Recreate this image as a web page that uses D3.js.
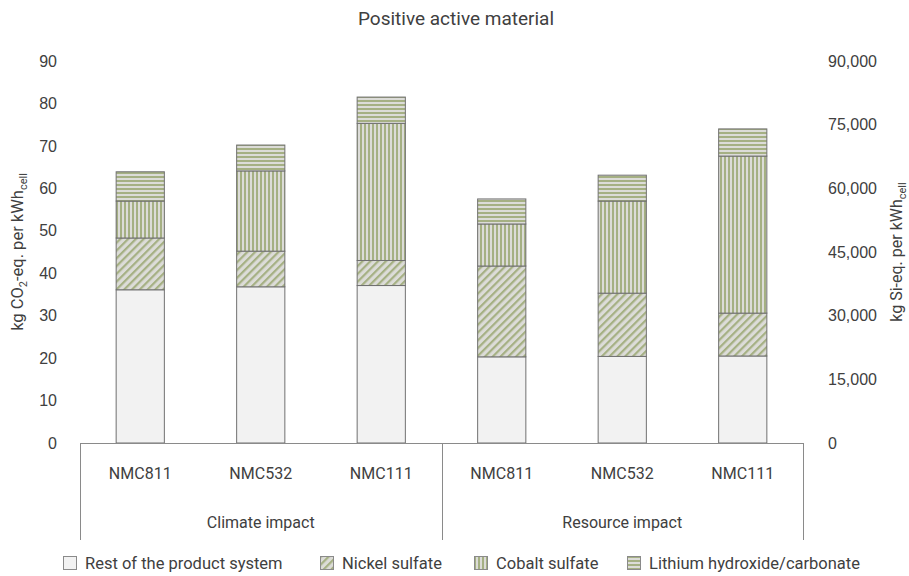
<!DOCTYPE html>
<html>
<head>
<meta charset="utf-8">
<script src="https://cdn.jsdelivr.net/npm/d3@7/dist/d3.min.js"></script>
<style>
  html, body { margin: 0; padding: 0; background: #fff; }
  svg { display: block; font-family: Roboto, "Noto Sans", sans-serif; }
</style>
</head>
<body>
<svg id="chart" width="909" height="576"></svg>
<script>
// Stacked contributions of the positive active material, per cell chemistry
const groups = ["Climate impact", "Resource impact"];
const categories = ["NMC811", "NMC532", "NMC111"];
const seriesNames = ["Rest of the product system", "Nickel sulfate", "Cobalt sulfate", "Lithium hydroxide/carbonate"];

// Climate impact, kg CO2-eq. per kWh cell (left axis)
const climateRest    = [36.1, 36.8, 37.1];
const climateNickel  = [12.2, 8.4, 5.9];
const climateCobalt  = [8.7, 18.9, 32.3];
const climateLithium = [6.9, 6.1, 6.2];

// Resource impact, kg Si-eq. per kWh cell (right axis)
const resourceRest    = [20300, 20400, 20500];
const resourceNickel  = [21400, 14900, 10100];
const resourceCobalt  = [9900, 21700, 37000];
const resourceLithium = [5900, 6100, 6400];

const leftTicks  = [0, 10, 20, 30, 40, 50, 60, 70, 80, 90];
const rightTicks = [0, 15000, 30000, 45000, 60000, 75000, 90000];

const svg = d3.select("#chart");
const plot = { left: 80, right: 803, top: 61, bottom: 443 };
const textColor = "#404040";

// Pattern fills for the stacked segments
const defs = svg.append("defs");
const green = "#a5b083", bg = "#dcdcd8";
function stripes(id, angle, period, lineW) {
  const p = defs.append("pattern")
    .attr("id", id).attr("patternUnits", "userSpaceOnUse")
    .attr("width", period).attr("height", period)
    .attr("patternTransform", `rotate(${angle})`);
  p.append("rect").attr("width", period).attr("height", period).attr("fill", bg);
  p.append("rect").attr("x", 0).attr("y", 0).attr("width", lineW).attr("height", period).attr("fill", green);
}
stripes("pNickel", 45, 5.5, 2.2);
stripes("pCobalt", 0, 4, 2);
stripes("pLithium", 90, 4, 2);
const fills = ["#f2f2f2", "url(#pNickel)", "url(#pCobalt)", "url(#pLithium)"];

// Scales
const yLeft = d3.scaleLinear().domain([0, 90]).range([plot.bottom, plot.top]);
const yRight = d3.scaleLinear().domain([0, 90000]).range([plot.bottom, plot.top]);
const slots = [];
groups.forEach(g => categories.forEach(c => slots.push(g + "|" + c)));
const x = d3.scaleBand().domain(slots).range([plot.left, plot.right]).padding(0);
const barW = x.step() * 0.4;

// Build stacks from the series arrays
function stackRows(arrs) {
  return categories.map((c, i) => {
    const row = { category: c };
    seriesNames.forEach((s, k) => row[s] = arrs[k][i]);
    return row;
  });
}
const stack = d3.stack().keys(seriesNames);
const climateStack = stack(stackRows([climateRest, climateNickel, climateCobalt, climateLithium]));
const resourceStack = stack(stackRows([resourceRest, resourceNickel, resourceCobalt, resourceLithium]));

function drawStack(layers, group, y) {
  const g = svg.append("g");
  layers.forEach((layer, k) => {
    g.selectAll(null).data(layer).enter().append("rect")
      .attr("x", d => x(group + "|" + d.data.category) + (x.step() - barW) / 2)
      .attr("y", d => y(d[1]))
      .attr("width", barW)
      .attr("height", d => y(d[0]) - y(d[1]))
      .attr("fill", fills[k])
      .attr("stroke", "#707070")
      .attr("stroke-width", 1);
  });
}
drawStack(climateStack, groups[0], yLeft);
drawStack(resourceStack, groups[1], yRight);

// Left axis labels
const axL = svg.append("g").attr("transform", `translate(${plot.left - 23},0)`)
  .call(d3.axisLeft(yLeft).tickValues(leftTicks).tickSize(0).tickPadding(0));
axL.select(".domain").remove();
axL.selectAll("text").attr("fill", textColor).style("font-size", "16px");

// Right axis labels
const axR = svg.append("g").attr("transform", `translate(${plot.right + 25},0)`)
  .call(d3.axisRight(yRight).tickValues(rightTicks).tickSize(0).tickPadding(0)
    .tickFormat(d3.format(",")));
axR.select(".domain").remove();
axR.selectAll("text").attr("fill", textColor).style("font-size", "16px");

// Baseline and category frame
const frame = svg.append("g").attr("stroke", "#8a8a8a").attr("stroke-width", 1).attr("shape-rendering", "crispEdges");
frame.append("line").attr("x1", plot.left).attr("x2", plot.right).attr("y1", plot.bottom + 0.5).attr("y2", plot.bottom + 0.5);
[plot.left, x(groups[1] + "|" + categories[0]), plot.right].forEach(v => {
  frame.append("line").attr("x1", Math.round(v) + 0.5).attr("x2", Math.round(v) + 0.5)
    .attr("y1", plot.bottom).attr("y2", 540);
});

// Category and group labels
svg.append("g").selectAll("text").data(slots).enter().append("text")
  .attr("x", d => x(d) + x.step() / 2)
  .attr("y", 479)
  .attr("text-anchor", "middle")
  .attr("fill", textColor).style("font-size", "16px")
  .text(d => d.split("|")[1]);
svg.append("g").selectAll("text").data(groups).enter().append("text")
  .attr("x", g => x(g + "|" + categories[1]) + x.step() / 2)
  .attr("y", 528)
  .attr("text-anchor", "middle")
  .attr("fill", textColor).style("font-size", "16px")
  .text(g => g);

// Title
svg.append("text").attr("x", 456).attr("y", 25).attr("text-anchor", "middle")
  .attr("fill", textColor).style("font-size", "19px").text("Positive active material");

// Axis titles with subscripts
const tL = svg.append("text").attr("transform", `translate(23,${(plot.top + plot.bottom) / 2}) rotate(-90)`)
  .attr("text-anchor", "middle").attr("fill", textColor).style("font-size", "16.5px");
tL.append("tspan").text("kg CO");
tL.append("tspan").attr("dy", 4).style("font-size", "11px").text("2");
tL.append("tspan").attr("dy", -4).text("-eq. per kWh");
tL.append("tspan").attr("dy", 4).style("font-size", "11px").text("cell");

const tR = svg.append("text").attr("transform", `translate(902,${(plot.top + plot.bottom) / 2}) rotate(-90)`)
  .attr("text-anchor", "middle").attr("fill", textColor).style("font-size", "16px");
tR.append("tspan").text("kg Si-eq. per kWh");
tR.append("tspan").attr("dy", 4).style("font-size", "11px").text("cell");

// Legend
const legendX = [63, 320, 474, 627];
const lg = svg.append("g").selectAll("g").data(seriesNames).enter().append("g")
  .attr("transform", (d, i) => `translate(${legendX[i]},556)`);
lg.append("rect").attr("x", 0.5).attr("y", 0.5).attr("width", 13).attr("height", 13)
  .attr("fill", (d, i) => fills[i]).attr("stroke", "#8a8a8a");
lg.append("text").attr("x", 22).attr("y", 12.5).attr("fill", textColor)
  .style("font-size", "16.5px").text(d => d);
</script>
</body>
</html>
